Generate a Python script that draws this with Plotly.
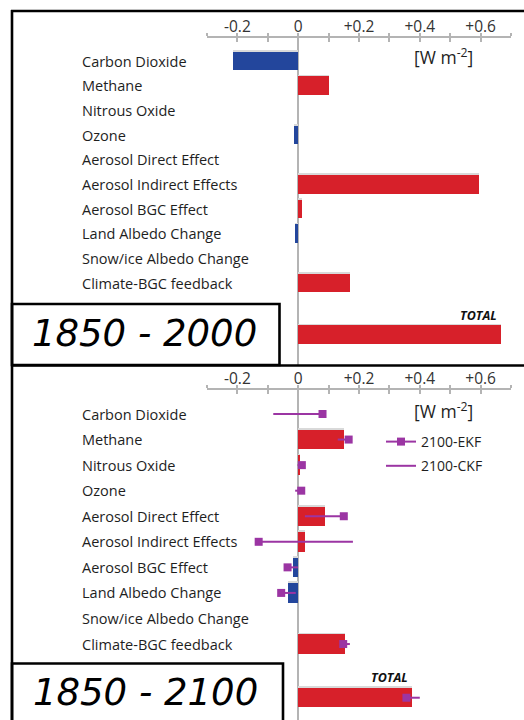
import plotly.graph_objects as go

# ---------------- data ----------------
categories = ["Carbon Dioxide", "Methane", "Nitrous Oxide", "Ozone",
              "Aerosol Direct Effect", "Aerosol Indirect Effects",
              "Aerosol BGC Effect", "Land Albedo Change",
              "Snow/ice Albedo Change", "Climate-BGC feedback"]
total_label = "TOTAL"

forcing_2000 = [-0.215, 0.100, 0.0, -0.013, 0.0, 0.595, 0.012, -0.012, 0.0, 0.170]
total_2000 = 0.668

forcing_2100 = [0.0, 0.150, 0.006, 0.0, 0.087, 0.021, -0.016, -0.034, 0.0, 0.155]
total_2100 = 0.375

ekf_2100 = [0.080, 0.166, 0.012, 0.010, 0.150, -0.130, -0.035, -0.056, None, 0.148]
ekf_total = 0.356
ckf_2100 = [-0.082, 0.130, -0.002, -0.010, 0.022, 0.180, -0.001, -0.008, None, 0.170]
ckf_total = 0.400

tick_vals = [-0.3, -0.2, -0.1, 0.0, 0.1, 0.2, 0.3, 0.4, 0.5, 0.6, 0.7]
tick_text = ["", "-0.2", "", "0", "", "+0.2", "", "+0.4", "", "+0.6", ""]

period_labels = ["1850 - 2000", "1850 - 2100"]
unit_label = "[W m<sup>-2</sup>]"
series_names = ["2100-EKF", "2100-CKF"]

# ---------------- styling ----------------
W, H = 524, 720
RED = "#d7202a"
BLUE = "#23469c"
PURPLE = "#9b35a3"
AXIS_GRAY = "#b4b4b4"
SHADOW = "#d9d9d9"
TEXT = "#1e1e1e"
FONT = "Open Sans"
TOTAL_POS = 11.1
SHADOW_OFF = 0.07


def px(x):
    return x / W


def py(y):
    return 1 - y / H


ypos = list(range(len(categories))) + [TOTAL_POS]

fig = go.Figure()

panels = [
    dict(vals=forcing_2000 + [total_2000], xa="x", ya="y", yref="y", xref="x"),
    dict(vals=forcing_2100 + [total_2100], xa="x2", ya="y2", yref="y2", xref="x2"),
]

for p in panels:
    cols = [RED if v >= 0 else BLUE for v in p["vals"]]
    fig.add_trace(go.Bar(x=p["vals"], y=[v - SHADOW_OFF for v in ypos],
                         orientation="h", width=0.76,
                         marker=dict(color=SHADOW, line=dict(width=0)),
                         xaxis=p["xa"], yaxis=p["ya"], showlegend=False,
                         hoverinfo="skip"))
    fig.add_trace(go.Bar(x=p["vals"], y=ypos, orientation="h", width=0.76,
                         marker=dict(color=cols, line=dict(width=0)),
                         xaxis=p["xa"], yaxis=p["ya"], showlegend=False,
                         hoverinfo="skip"))

# EKF / CKF for 2100
ekf_all = ekf_2100 + [ekf_total]
ckf_all = ckf_2100 + [ckf_total]
seg_x, seg_y, mk_x, mk_y = [], [], [], []
for yv, e, c in zip(ypos, ekf_all, ckf_all):
    if e is None:
        continue
    seg_x += [e, c, None]
    seg_y += [yv, yv, None]
    mk_x += [e, None]
    mk_y += [yv, None]

fig.add_trace(go.Scatter(x=seg_x, y=seg_y, mode="lines",
                         line=dict(color=PURPLE, width=2),
                         xaxis="x2", yaxis="y2", name=series_names[1],
                         legendrank=2, legendgroup="b", hoverinfo="skip"))
fig.add_trace(go.Scatter(x=mk_x, y=mk_y, mode="lines+markers",
                         marker=dict(symbol="square", size=8, color=PURPLE),
                         line=dict(color=PURPLE, width=2),
                         xaxis="x2", yaxis="y2", name=series_names[0],
                         legendrank=1, legendgroup="a", hoverinfo="skip"))

xcommon = dict(domain=[px(207), px(511)], range=[-0.3, 0.7], side="top",
               showline=True, linecolor=AXIS_GRAY, linewidth=1.5,
               tickmode="array", tickvals=tick_vals, ticktext=tick_text,
               ticks="outside", ticklen=3, tickwidth=1.5, tickcolor=AXIS_GRAY,
               ticklabelstandoff=-5,
               tickfont=dict(family=FONT, size=15.5, color="#333333"),
               showgrid=False, zeroline=True, zerolinecolor=AXIS_GRAY,
               zerolinewidth=1.5, fixedrange=True)
xover = dict(range=[-0.3, 0.7], side="top", showline=False,
             tickmode="array", tickvals=tick_vals, ticks="inside", ticklen=4,
             tickwidth=1.5, tickcolor=AXIS_GRAY, showticklabels=False,
             showgrid=False, zeroline=False, fixedrange=True)
yhide = dict(showticklabels=False, showgrid=False, zeroline=False,
             showline=False, ticks="", fixedrange=True)

# top panel: row 0 at y=61px, 24.67px per row, axis at 38px, bottom at 365px
r1, s1, a1, b1 = 61, 24.67, 38, 365
# bottom panel: row 0 at 414px, 25.56px per row, axis at 390px, bottom at 720px
r2, s2, a2, b2 = 414, 25.56, 390, 720

fig.update_layout(
    width=W, height=H, margin=dict(l=0, r=0, t=0, b=0),
    paper_bgcolor="white", plot_bgcolor="rgba(0,0,0,0)",
    barmode="overlay", bargap=0,
    xaxis=dict(anchor="y", **xcommon),
    xaxis3=dict(overlaying="x", anchor="y", **xover),
    yaxis=dict(domain=[py(b1), py(a1)],
               range=[(b1 - r1) / s1, (a1 - r1) / s1], **yhide),
    xaxis2=dict(anchor="y2", **xcommon),
    xaxis4=dict(overlaying="x2", anchor="y2", **xover),
    yaxis2=dict(domain=[py(b2), py(a2)],
                range=[(b2 - r2) / s2, (a2 - r2) / s2], **yhide),
    showlegend=True,
    legend=dict(x=px(381), y=py(426), xanchor="left", yanchor="top",
                bgcolor="rgba(0,0,0,0)", tracegroupgap=3,
                font=dict(family=FONT, size=14, color=TEXT)),
)

# dummy traces for overlay tick axes
fig.add_trace(go.Scatter(x=[None], y=[None], xaxis="x3", yaxis="y", showlegend=False))
fig.add_trace(go.Scatter(x=[None], y=[None], xaxis="x4", yaxis="y2", showlegend=False))

annotations = []
for p in panels:
    for i, c in enumerate(categories):
        annotations.append(dict(text=c, x=px(80), xref="paper", y=i, yref=p["yref"],
                                xanchor="left", yanchor="middle", showarrow=False,
                                font=dict(family=FONT, size=14.5, color=TEXT)))
    annotations.append(dict(text=total_label, x=p["vals"][-1], xref=p["xref"],
                            xshift=-2, y=TOTAL_POS - 0.78, yref=p["yref"],
                            xanchor="right", yanchor="middle", showarrow=False,
                            font=dict(family=FONT, size=12.5, color="#111111",
                                      weight="bold", style="italic")))

annotations.append(dict(text=unit_label, x=px(443), y=py(57), xref="paper", yref="paper",
                        xanchor="center", yanchor="middle", showarrow=False,
                        font=dict(family=FONT, size=17.5, color=TEXT)))
annotations.append(dict(text=unit_label, x=px(443), y=py(410), xref="paper", yref="paper",
                        xanchor="center", yanchor="middle", showarrow=False,
                        font=dict(family=FONT, size=17.5, color=TEXT)))
YEAR_FONT = dict(family="DejaVu Sans", size=37, color="#000000", style="italic")
annotations.append(dict(text=period_labels[0], x=px(144), y=py(333), xref="paper", yref="paper",
                        xanchor="center", yanchor="middle", showarrow=False,
                        font=YEAR_FONT))
annotations.append(dict(text=period_labels[1], x=px(145), y=py(692), xref="paper", yref="paper",
                        xanchor="center", yanchor="middle", showarrow=False,
                        font=YEAR_FONT))
fig.update_layout(annotations=annotations)

LW = 2.6
shapes = [
    # year boxes
    dict(type="rect", xref="paper", yref="paper", x0=px(12), x1=px(279.5),
         y0=py(365), y1=py(304), line=dict(color="black", width=LW)),
    dict(type="rect", xref="paper", yref="paper", x0=px(12), x1=px(283),
         y0=py(725), y1=py(663.5), line=dict(color="black", width=LW)),
    # outer frame
    dict(type="line", xref="paper", yref="paper", x0=px(11), x1=px(530),
         y0=py(11), y1=py(11), line=dict(color="black", width=LW)),
    dict(type="line", xref="paper", yref="paper", x0=px(12), x1=px(12),
         y0=py(10), y1=py(725), line=dict(color="black", width=LW)),
    dict(type="line", xref="paper", yref="paper", x0=px(11), x1=px(530),
         y0=py(365.5), y1=py(365.5), line=dict(color="black", width=LW)),
]
fig.update_layout(shapes=shapes)

fig.write_html("out.html")
